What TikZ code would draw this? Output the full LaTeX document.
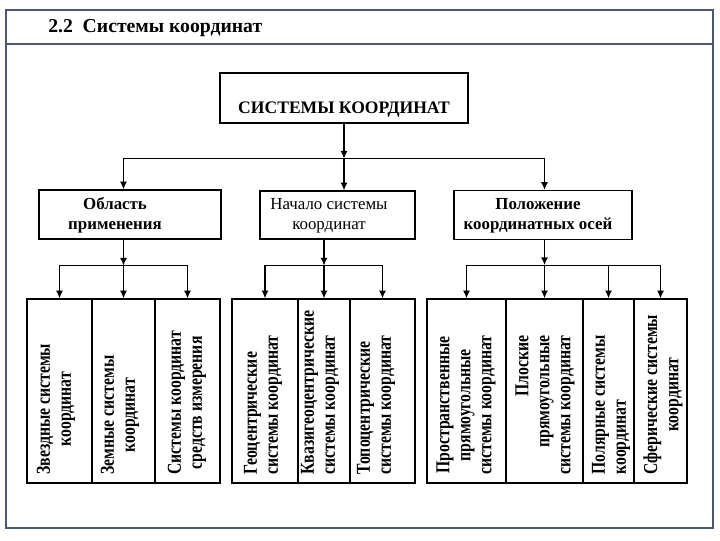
\documentclass[tikz,border=0pt]{standalone}
\usepackage{fontspec}
\setmainfont{Liberation Serif}
\newfontfamily\narrowfont[FakeStretch=0.8]{Liberation Serif}
\usetikzlibrary{calc,arrows.meta}
\definecolor{framecol}{HTML}{4A5A70}
\tikzset{
  box/.style={draw, line width=0.9pt, inner sep=0pt},
  cell/.style={box, minimum height=4.6cm},
  celltext/.style={rotate=90, anchor=west, inner sep=0pt, font=\narrowfont\bfseries\fontsize{14}{15}\selectfont},
  midtext/.style={align=center, inner sep=0pt, font=\bfseries\fontsize{12}{14.5}\selectfont},
  conn/.style={line width=0.9pt, -{Latex[length=5.5pt,width=5pt]}},
}
\begin{document}
\begin{tikzpicture}[x=0.025cm,y=-0.025cm]
  \pgfmathsetmacro{\cellmid}{391}
  \pgfmathsetmacro{\txtstart}{475}
  \useasboundingbox (0,0) rectangle (720,540);
  \draw[framecol, line width=1.4pt] (6,10) rectangle (713,528);
  \draw[framecol, line width=1.4pt] (6,44) -- (713,44);
  \node[anchor=west, inner sep=0pt, font=\bfseries\fontsize{14}{16}\selectfont] (title) at (48,28) {2.2\enspace Системы координат};

  \node[box, minimum width=6.2cm, minimum height=1.25cm, text height=0.8cm, text depth=0.05cm,
    font=\bfseries\fontsize{12.5}{15}\selectfont] (sk) at (344,98) {СИСТЕМЫ КООРДИНАТ};

  \node[box, minimum width=4.55cm, minimum height=1.225cm] (obl) at (130,214.5) {};
  \node[box, minimum width=3.875cm, minimum height=1.2cm] (nach) at (337.5,215) {};
  \node[box, minimum width=4.45cm, minimum height=1.225cm] (pol) at (543,215) {};
  \node[midtext] (obl-t) at (115,215.5) {Область\\применения};
  \node[midtext, font=\fontsize{12}{14.5}\selectfont] (nach-t) at (329,216) {Начало системы\\координат};
  \node[midtext] (pol-t) at (538,215.5) {Положение\\координатных осей};

  \foreach \n/\x/\w in {c1/59.5/1.625, c2/123.5/1.575, c3/187.5/1.625,
                        c4/265/1.65, c5/324/1.3, c6/382.5/1.625,
                        c7/466.5/1.975, c8/544.5/1.925, c9/608.5/1.275, c10/660.5/1.325}
    \node[cell, minimum width=\w cm] (\n) at (\x,\cellmid) {};

  \node[celltext, align=center] (t1) at (56,\txtstart) {Звездные системы\\координат};
  \node[celltext, align=center] (t2) at (120,\txtstart) {Земные системы\\координат};
  \node[celltext, align=center] (t3) at (187,\txtstart) {Системы координат\\средств измерения};
  \node[celltext, align=left] (t4) at (263,\txtstart) {Геоцентрические\\системы координат};
  \node[celltext, align=left] (t5) at (320,\txtstart) {Квазигеоцентрические\\системы координат};
  \node[celltext, align=left] (t6) at (376,\txtstart) {Топоцентрические\\системы координат};
  \node[celltext, align=center] (t7) at (466,\txtstart) {Пространственные\\прямоугольные\\системы координат};
  \node[celltext, align=right] (t8) at (545,\txtstart) {Плоские\\прямоугольные\\системы координат};
  \node[celltext, align=left] (t9) at (611,\txtstart) {Полярные системы\\координат};
  \node[celltext, align=center] (t10) at (663,\txtstart) {Сферические системы\\координат};

  \draw[conn] (sk.south) -- ++(0,35) coordinate (r0);
  \draw[conn] (r0) -- (r0 |- nach.north);
  \draw[conn] (r0) -| (obl.north -| c2.north);
  \draw[conn] (r0) -| (pol.north -| c8.north);

  \draw[conn] (obl.south -| c2.north) -- ++(0,26) coordinate (r1);
  \foreach \c in {c1,c2,c3} \draw[conn] (r1) -| (\c.north);
  \draw[conn] (nach.south -| c5.north) -- ++(0,26) coordinate (r2);
  \foreach \c in {c4,c5,c6} \draw[conn] (r2) -| (\c.north);
  \draw[conn] (pol.south -| c8.north) -- ++(0,25) coordinate (r3);
  \foreach \c in {c7,c8,c9,c10} \draw[conn] (r3) -| (\c.north);
\end{tikzpicture}
\end{document}
